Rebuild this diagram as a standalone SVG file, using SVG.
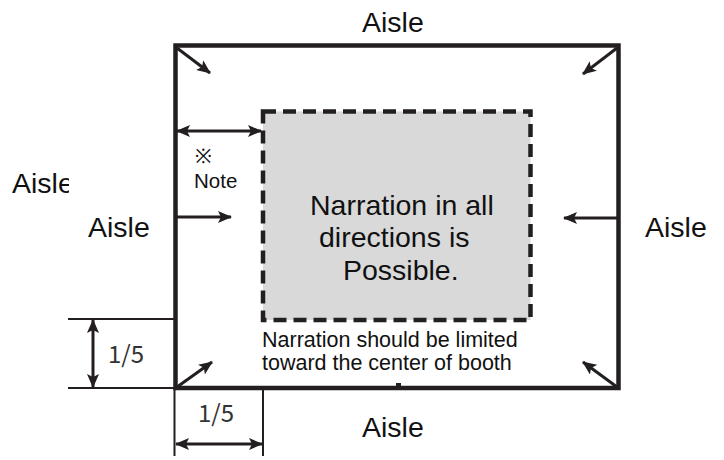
<svg xmlns="http://www.w3.org/2000/svg" width="724" height="460" viewBox="0 0 724 460">
<defs>
<style>
.t{font-family:"Liberation Sans",Arial,sans-serif;fill:#111;}
.big{font-size:28.5px;}
.mid{font-size:21.5px;}
.frac{font-family:"Noto Sans CJK JP","DejaVu Sans",sans-serif;font-size:24px;fill:#333;}
.arr{stroke:#231f20;stroke-width:3;fill:none;}
.dim{stroke:#231f20;stroke-width:2;fill:none;}
</style>
<marker id="ah" viewBox="0 0 14 12" refX="13" refY="6" markerWidth="14" markerHeight="12" markerUnits="userSpaceOnUse" orient="auto-start-reverse">
<path d="M0,0 L14,6 L0,12 L3,6 z" fill="#231f20"/>
</marker>
<clipPath id="cl"><rect x="0" y="150" width="69" height="60"/></clipPath>
</defs>
<rect width="724" height="460" fill="#fff"/>

<g id="booth">
<rect x="175.5" y="45.5" width="443" height="342.5" fill="none" stroke="#231f20" stroke-width="4.5"/>
</g>

<g id="narration-area">
<rect x="263" y="111.5" width="267.5" height="208.5" fill="#d9d9d9"/>
<rect x="263" y="111.5" width="267.5" height="208.5" fill="none" stroke="#231f20" stroke-width="4.5" stroke-dasharray="13 7"/>
<text class="t big" x="310" y="215">Narration in all</text>
<text class="t big" x="319" y="247">directions is</text>
<text class="t big" x="343" y="280">Possible.</text>
</g>

<g id="labels">
<text class="t big" x="362" y="32">Aisle</text>
<text class="t big" x="362" y="437">Aisle</text>
<text class="t big" x="645" y="237">Aisle</text>
<text class="t big" x="88" y="237">Aisle</text>
<text class="t big" x="12" y="193" clip-path="url(#cl)">Aisle</text>
<text class="t" x="195" y="163" font-size="20">※</text>
<text class="t" x="194" y="188" font-size="20.5">Note</text>
<text class="t mid" x="262" y="347">Narration should be limited</text>
<text class="t mid" x="262" y="370">toward the center of booth</text>
<text class="frac" x="108" y="363">1/5</text>
<text class="frac" x="198" y="422">1/5</text>
</g>

<g id="connectors">
<line class="arr" x1="177" y1="48" x2="210" y2="73" marker-end="url(#ah)"/>
<line class="arr" x1="617" y1="48" x2="583" y2="74" marker-end="url(#ah)"/>
<line class="arr" x1="177" y1="387" x2="212" y2="362" marker-end="url(#ah)"/>
<line class="arr" x1="617" y1="387" x2="583" y2="362" marker-end="url(#ah)"/>
<line class="arr" x1="177" y1="217" x2="231" y2="217" marker-end="url(#ah)"/>
<line class="arr" x1="617" y1="218" x2="564" y2="218" marker-end="url(#ah)"/>
<line class="arr" x1="177" y1="131" x2="261" y2="131" marker-start="url(#ah)" marker-end="url(#ah)"/>
<line class="dim" x1="68" y1="319" x2="175" y2="319"/>
<line class="dim" x1="68" y1="388" x2="175" y2="388"/>
<line class="arr" x1="93" y1="320" x2="93" y2="387" marker-start="url(#ah)" marker-end="url(#ah)"/>
<line class="dim" x1="174.5" y1="388" x2="174.5" y2="456"/>
<line class="dim" x1="263" y1="388" x2="263" y2="456"/>
<line class="arr" x1="176" y1="444" x2="262" y2="444" marker-start="url(#ah)" marker-end="url(#ah)"/>
<rect x="396" y="383" width="5" height="3" fill="#231f20"/>
</g>
</svg>
